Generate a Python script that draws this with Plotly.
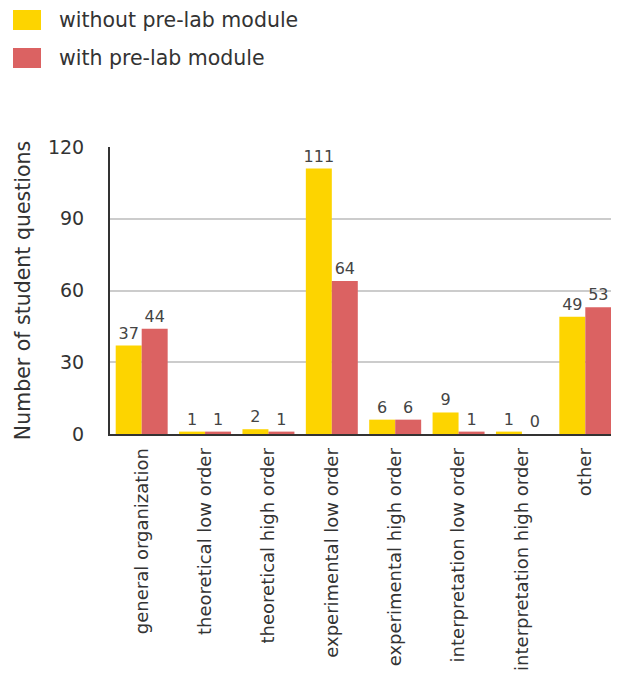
import plotly.graph_objects as go

categories = ["general organization", "theoretical low order", "theoretical high order",
              "experimental low order", "experimental high order", "interpretation low order",
              "interpretation high order", "other"]
without_prelab = [37, 1, 2, 111, 6, 9, 1, 49]
with_prelab = [44, 1, 1, 64, 6, 1, 0, 53]
series_names = ["without pre-lab module", "with pre-lab module"]
y_ticks = [0, 30, 60, 90, 120]

YELLOW = "#FDD400"
RED = "#DB6262"
FONT = "DejaVu Sans"
OFF = 8  # page body margin
W, H = 619 - OFF, 678 - OFF
ML, MT = 110 - OFF, 147 - OFF
MR = W - (617 - OFF)
MB = H - (434 - OFF)

fig = go.Figure()
for name, vals, col in [(series_names[0], without_prelab, YELLOW), (series_names[1], with_prelab, RED)]:
    fig.add_trace(go.Bar(
        x=categories, y=vals, name=name, marker=dict(color=col, line=dict(width=0)),
        texttemplate="%{y}", textposition="outside", cliponaxis=False, constraintext="none",
        textfont=dict(family=FONT, size=16, color="#444444"), showlegend=False,
    ))

# manual legend (swatches + labels)
pw, ph = W - ML - MR, H - MT - MB
def px(x): return (x - OFF - ML) / pw
def py(y): return 1 - (y - OFF - MT) / ph

for i, (name, col) in enumerate(zip(series_names, [YELLOW, RED])):
    y0 = 10 + i * 38
    fig.add_shape(type="rect", xref="paper", yref="paper",
                  x0=px(13), x1=px(41), y0=py(y0 + 20), y1=py(y0),
                  fillcolor=col, line=dict(width=0))
    fig.add_annotation(xref="paper", yref="paper", x=px(57), y=py(y0 + 10),
                       text=name, showarrow=False, xanchor="left", yanchor="middle",
                       font=dict(family=FONT, size=20.5, color="#333333"))

fig.update_layout(
    width=W, height=H, margin=dict(l=ML, r=MR, t=MT, b=MB),
    paper_bgcolor="white", plot_bgcolor="white",
    barmode="group", bargap=0.18, bargroupgap=0,
    font=dict(family=FONT, color="#333333"),
    xaxis=dict(tickangle=-90, ticks="", showline=True, linecolor="#333333", linewidth=2,
               ticklabelstandoff=5, automargin=False,
               tickfont=dict(family=FONT, size=18, color="#333333")),
    yaxis=dict(range=[0, 120], tickvals=y_ticks, showgrid=True, gridcolor="#cccccc", gridwidth=1.5,
               showline=True, linecolor="#333333", linewidth=2, zeroline=False, ticks="",
               automargin=False,
               tickfont=dict(family=FONT, size=19, color="#333333"), ticklabelstandoff=20,
               title=dict(text="Number of student questions", standoff=12,
                          font=dict(family=FONT, size=20.5, color="#333333"))),
)
fig.write_html("out.html")
